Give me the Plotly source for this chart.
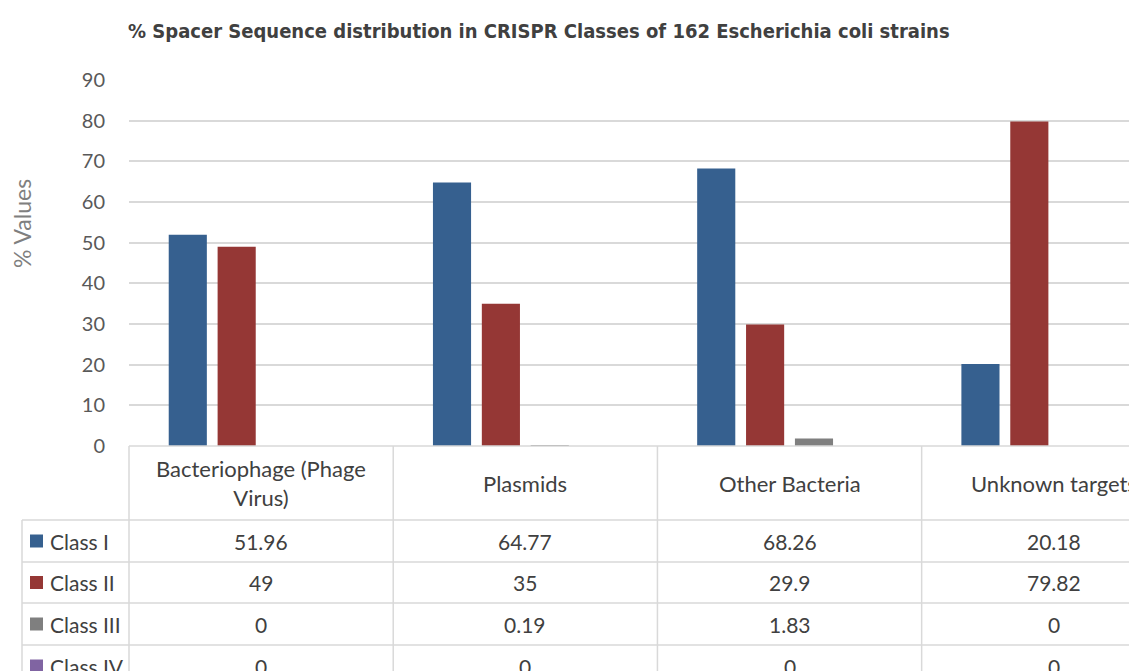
import plotly.graph_objects as go

categories = ["Bacteriophage (Phage<br>Virus)", "Plasmids", "Other Bacteria", "Unknown targets"]
series_names = ["Class I", "Class II", "Class III", "Class IV"]
class_1 = [51.96, 64.77, 68.26, 20.18]
class_2 = [49, 35, 29.9, 79.82]
class_3 = [0, 0.19, 1.83, 0]
class_4 = [0, 0, 0, 0]
colors = ["#36608F", "#953735", "#7F7F7F", "#8064A2"]
y_ticks = list(range(0, 100, 10))

series = [class_1, class_2, class_3, class_4]

OFF = 8  # page body margin
W, H = 1137 - OFF, 671 - OFF
L, T, B = 129 - OFF, 80 - OFF, 225
X_MAX = 3.315  # right edge of visible range (last column cropped)
xs = list(range(len(categories)))

def py_ref(py):
    return (H - B - (py - OFF)) / (H - B - T)

def px_ref(px):
    return (px - OFF - L) / (W - L)

def cat_to_paper_x(x):
    return (x + 0.5) / (X_MAX + 0.5)

fig = go.Figure()
for name, vals, col in zip(series_names, series, colors):
    fig.add_trace(go.Bar(x=xs, y=vals, name=name, marker=dict(color=col, line=dict(width=0)),
                         showlegend=False))

line_col = "#D9D9D9"
txt_col = "#404040"
shapes = []
annotations = []

row_lines_px = [446, 520, 562, 603, 645, 687]
lw = 1.5
shapes.append(dict(type="line", xref="paper", yref="paper", x0=0, x1=1.0,
                   y0=py_ref(446), y1=py_ref(446), line=dict(color=line_col, width=lw)))
for py in row_lines_px[1:-1]:
    shapes.append(dict(type="line", xref="paper", yref="paper", x0=px_ref(22), x1=1.0,
                       y0=py_ref(py), y1=py_ref(py), line=dict(color=line_col, width=lw)))
for i in range(len(categories)):
    xp = cat_to_paper_x(i - 0.5)
    shapes.append(dict(type="line", xref="paper", yref="paper", x0=xp, x1=xp,
                       y0=py_ref(446), y1=py_ref(700), line=dict(color=line_col, width=lw)))
shapes.append(dict(type="line", xref="paper", yref="paper", x0=px_ref(22), x1=px_ref(22),
                   y0=py_ref(520), y1=py_ref(700), line=dict(color=line_col, width=lw)))

font_tbl = dict(family="Lato, Carlito, sans-serif", size=21, color=txt_col)
font_hdr = dict(family="Lato, Carlito, sans-serif", size=22, color=txt_col)

for i, c in enumerate(categories):
    annotations.append(dict(x=i, xref="x", yref="paper", y=py_ref(483), text=c,
                            showarrow=False, font=font_hdr, xanchor="center", yanchor="middle"))

for r, (name, vals, col) in enumerate(zip(series_names, series, colors)):
    py_c = (row_lines_px[r + 1] + row_lines_px[r + 2]) / 2
    yp = py_ref(py_c)
    shapes.append(dict(type="rect", xref="paper", yref="paper",
                       x0=px_ref(30), x1=px_ref(43),
                       y0=py_ref(py_c + 6.5), y1=py_ref(py_c - 6.5),
                       fillcolor=col, line=dict(width=0)))
    annotations.append(dict(x=px_ref(48), xref="paper", yref="paper", y=yp, text=name,
                            showarrow=False, font=font_tbl, xanchor="left", yanchor="middle"))
    for i, v in enumerate(vals):
        annotations.append(dict(x=i, xref="x", yref="paper", y=yp, text=f"{v:g}",
                                showarrow=False, font=font_tbl, xanchor="center", yanchor="middle"))

# y-axis title
annotations.append(dict(x=px_ref(22), xref="paper", yref="paper", y=py_ref(224), text="% Values",
                        textangle=-90, showarrow=False, xanchor="center", yanchor="middle",
                        font=dict(family="Lato, Carlito, sans-serif", size=23, color="#7F7F7F")))

fig.update_layout(
    width=W, height=H,
    margin=dict(l=L, r=0, t=T, b=B),
    paper_bgcolor="white", plot_bgcolor="white",
    barmode="group", bargap=0.26, bargroupgap=0.22,
    title=dict(text="<b>% Spacer Sequence distribution in CRISPR Classes of 162 Escherichia coli strains</b>",
               x=(128 - OFF) / W, xanchor="left", y=1 - (31 - OFF) / H, yanchor="middle",
               font=dict(family="Liberation Sans Narrow, DejaVu Sans Condensed, sans-serif", size=20, color="#404040")),
    xaxis=dict(range=[-0.5, X_MAX], showticklabels=False, showgrid=False, zeroline=False,
               showline=False, ticks=""),
    yaxis=dict(range=[0, 90], tickvals=y_ticks, showgrid=True, gridcolor=line_col, gridwidth=1.5,
               zeroline=False, showline=False, ticks="",
               tickfont=dict(family="Lato, Carlito, sans-serif", size=20, color="#595959"),
               ticklabelstandoff=23),
    shapes=shapes, annotations=annotations,
)

fig.write_html("out.html")
